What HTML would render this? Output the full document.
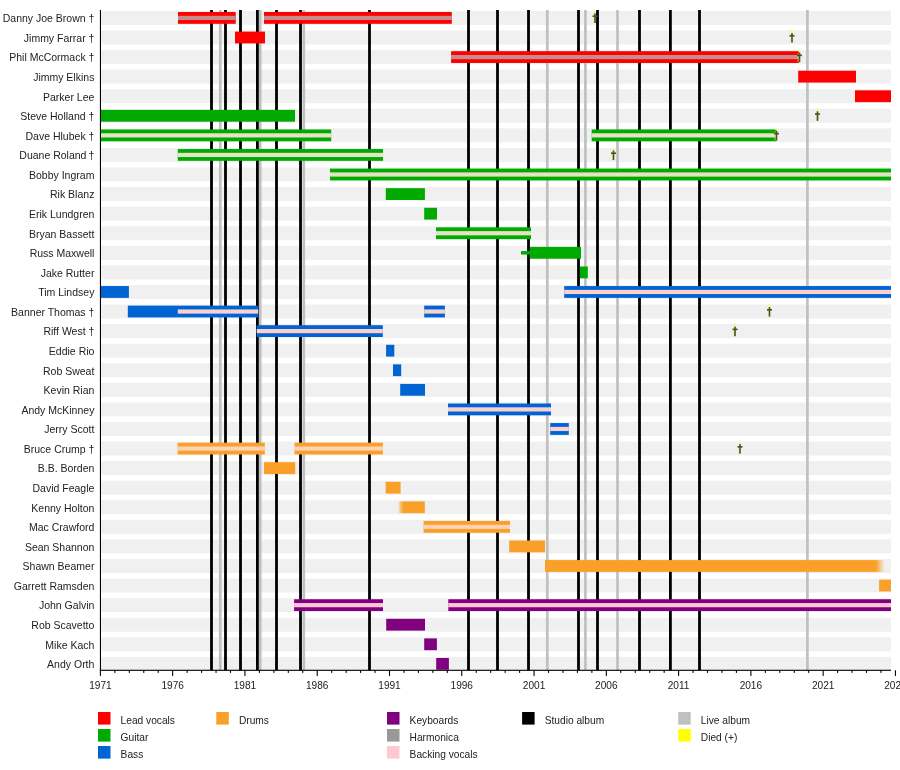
<!DOCTYPE html>
<html><head><meta charset="utf-8"><title>Molly Hatchet timeline</title>
<style>html,body{margin:0;padding:0;background:#fff;}body{width:900px;height:770px;overflow:hidden;}svg{display:block;will-change:transform;font-family:"Liberation Sans",sans-serif;}.nm{font-size:10.5px;fill:#222;text-anchor:end;}.yr{font-size:10.1px;fill:#222;text-anchor:middle;}.lg{font-size:10.2px;fill:#222;}.dg{font-size:12px;fill:#3b3b16;text-anchor:middle;}</style></head><body>
<svg width="900" height="770" viewBox="0 0 900 770">
<rect x="0" y="0" width="900" height="770" fill="#fff"/>
<rect x="101" y="10.92" width="790" height="14" fill="#f0f0f0"/>
<rect x="101" y="30.49" width="790" height="14" fill="#f0f0f0"/>
<rect x="101" y="50.07" width="790" height="14" fill="#f0f0f0"/>
<rect x="101" y="69.64" width="790" height="14" fill="#f0f0f0"/>
<rect x="101" y="89.22" width="790" height="14" fill="#f0f0f0"/>
<rect x="101" y="108.79" width="790" height="14" fill="#f0f0f0"/>
<rect x="101" y="128.36" width="790" height="14" fill="#f0f0f0"/>
<rect x="101" y="147.94" width="790" height="14" fill="#f0f0f0"/>
<rect x="101" y="167.51" width="790" height="14" fill="#f0f0f0"/>
<rect x="101" y="187.09" width="790" height="14" fill="#f0f0f0"/>
<rect x="101" y="206.66" width="790" height="14" fill="#f0f0f0"/>
<rect x="101" y="226.23" width="790" height="14" fill="#f0f0f0"/>
<rect x="101" y="245.81" width="790" height="14" fill="#f0f0f0"/>
<rect x="101" y="265.38" width="790" height="14" fill="#f0f0f0"/>
<rect x="101" y="284.96" width="790" height="14" fill="#f0f0f0"/>
<rect x="101" y="304.53" width="790" height="14" fill="#f0f0f0"/>
<rect x="101" y="324.1" width="790" height="14" fill="#f0f0f0"/>
<rect x="101" y="343.68" width="790" height="14" fill="#f0f0f0"/>
<rect x="101" y="363.25" width="790" height="14" fill="#f0f0f0"/>
<rect x="101" y="382.83" width="790" height="14" fill="#f0f0f0"/>
<rect x="101" y="402.4" width="790" height="14" fill="#f0f0f0"/>
<rect x="101" y="421.97" width="790" height="14" fill="#f0f0f0"/>
<rect x="101" y="441.55" width="790" height="14" fill="#f0f0f0"/>
<rect x="101" y="461.12" width="790" height="14" fill="#f0f0f0"/>
<rect x="101" y="480.7" width="790" height="14" fill="#f0f0f0"/>
<rect x="101" y="500.27" width="790" height="14" fill="#f0f0f0"/>
<rect x="101" y="519.84" width="790" height="14" fill="#f0f0f0"/>
<rect x="101" y="539.42" width="790" height="14" fill="#f0f0f0"/>
<rect x="101" y="558.99" width="790" height="14" fill="#f0f0f0"/>
<rect x="101" y="578.57" width="790" height="14" fill="#f0f0f0"/>
<rect x="101" y="598.14" width="790" height="14" fill="#f0f0f0"/>
<rect x="101" y="617.71" width="790" height="14" fill="#f0f0f0"/>
<rect x="101" y="637.29" width="790" height="14" fill="#f0f0f0"/>
<rect x="101" y="656.86" width="790" height="14" fill="#f0f0f0"/>
<rect x="218.95" y="10" width="2.7" height="660.3" fill="#c0c0c0"/>
<rect x="258.85" y="10" width="2.7" height="660.3" fill="#c0c0c0"/>
<rect x="302.45" y="10" width="2.7" height="660.3" fill="#c0c0c0"/>
<rect x="545.95" y="10" width="2.7" height="660.3" fill="#c0c0c0"/>
<rect x="584.05" y="10" width="2.7" height="660.3" fill="#c0c0c0"/>
<rect x="616.15" y="10" width="2.7" height="660.3" fill="#c0c0c0"/>
<rect x="806.05" y="10" width="2.7" height="660.3" fill="#c0c0c0"/>
<rect x="210.1" y="10" width="2.8" height="660.3" fill="#000"/>
<rect x="224.1" y="10" width="2.8" height="660.3" fill="#000"/>
<rect x="239.1" y="10" width="2.8" height="660.3" fill="#000"/>
<rect x="256" y="10" width="2.8" height="660.3" fill="#000"/>
<rect x="275.1" y="10" width="2.8" height="660.3" fill="#000"/>
<rect x="299.1" y="10" width="2.8" height="660.3" fill="#000"/>
<rect x="368.1" y="10" width="2.8" height="660.3" fill="#000"/>
<rect x="467.1" y="10" width="2.8" height="660.3" fill="#000"/>
<rect x="496.1" y="10" width="2.8" height="660.3" fill="#000"/>
<rect x="527.1" y="10" width="2.8" height="660.3" fill="#000"/>
<rect x="577.1" y="10" width="2.8" height="660.3" fill="#000"/>
<rect x="596.1" y="10" width="2.8" height="660.3" fill="#000"/>
<rect x="638.1" y="10" width="2.8" height="660.3" fill="#000"/>
<rect x="669" y="10" width="2.8" height="660.3" fill="#000"/>
<rect x="698.1" y="10" width="2.8" height="660.3" fill="#000"/>
<defs><linearGradient id="gfl" x1="0" x2="1" y1="0" y2="0"><stop offset="0" stop-color="#fa9f28" stop-opacity="0"/><stop offset="1" stop-color="#fa9f28"/></linearGradient><linearGradient id="gfr" x1="0" x2="1" y1="0" y2="0"><stop offset="0" stop-color="#fa9f28"/><stop offset="1" stop-color="#fa9f28" stop-opacity="0"/></linearGradient></defs>
<rect x="178" y="12.02" width="57.7" height="11.8" fill="#ff0000"/>
<rect x="178" y="15.82" width="57.7" height="4.2" fill="#c48c8c"/>
<rect x="264" y="12.02" width="187.8" height="11.8" fill="#ff0000"/>
<rect x="264" y="15.82" width="187.8" height="4.2" fill="#c48c8c"/>
<rect x="235" y="31.59" width="30" height="11.8" fill="#ff0000"/>
<rect x="451.1" y="51.17" width="347.9" height="11.8" fill="#ff0000"/>
<rect x="451.1" y="54.97" width="347.9" height="4.2" fill="#c48c8c"/>
<rect x="798.2" y="70.74" width="57.8" height="11.8" fill="#ff0000"/>
<rect x="855" y="90.32" width="36" height="11.8" fill="#ff0000"/>
<rect x="100.5" y="109.89" width="194.5" height="11.8" fill="#00aa00"/>
<rect x="100.5" y="129.46" width="230.7" height="11.8" fill="#00aa00"/>
<rect x="100.5" y="133.26" width="230.7" height="4.2" fill="#e6e2c4"/>
<rect x="591.7" y="129.46" width="184.7" height="11.8" fill="#00aa00"/>
<rect x="591.7" y="133.26" width="184.7" height="4.2" fill="#e6e2c4"/>
<rect x="177.8" y="149.04" width="205.2" height="11.8" fill="#00aa00"/>
<rect x="177.8" y="152.84" width="205.2" height="4.2" fill="#e6e2c4"/>
<rect x="330" y="168.61" width="561" height="11.8" fill="#00aa00"/>
<rect x="330" y="172.41" width="561" height="4.2" fill="#e6e2c4"/>
<rect x="385.8" y="188.19" width="39.1" height="11.8" fill="#00aa00"/>
<rect x="424.2" y="207.76" width="12.8" height="11.8" fill="#00aa00"/>
<rect x="436" y="227.33" width="95" height="11.8" fill="#00aa00"/>
<rect x="436" y="231.13" width="95" height="4.2" fill="#e6e2c4"/>
<rect x="530" y="246.91" width="51" height="11.8" fill="#00aa00"/>
<rect x="580" y="266.48" width="7.8" height="11.8" fill="#00aa00"/>
<rect x="100.5" y="286.06" width="28.4" height="11.8" fill="#0064d2"/>
<rect x="564.2" y="286.06" width="326.8" height="11.8" fill="#0064d2"/>
<rect x="564.2" y="289.86" width="326.8" height="4.2" fill="#fcd0cc"/>
<rect x="127.8" y="305.63" width="130.4" height="11.8" fill="#0064d2"/>
<rect x="424.2" y="305.63" width="20.7" height="11.8" fill="#0064d2"/>
<rect x="424.2" y="309.43" width="20.7" height="4.2" fill="#fcd0cc"/>
<rect x="256.7" y="325.2" width="126.1" height="11.8" fill="#0064d2"/>
<rect x="256.7" y="329" width="126.1" height="4.2" fill="#fcd0cc"/>
<rect x="386.1" y="344.78" width="8.2" height="11.8" fill="#0064d2"/>
<rect x="393" y="364.35" width="8.2" height="11.8" fill="#0064d2"/>
<rect x="400.2" y="383.93" width="24.8" height="11.8" fill="#0064d2"/>
<rect x="448" y="403.5" width="103" height="11.8" fill="#0064d2"/>
<rect x="448" y="407.3" width="103" height="4.2" fill="#fcd0cc"/>
<rect x="550.2" y="423.07" width="18.6" height="11.8" fill="#0064d2"/>
<rect x="550.2" y="426.87" width="18.6" height="4.2" fill="#fcd0cc"/>
<rect x="177.7" y="442.65" width="87.1" height="11.8" fill="#fa9f28"/>
<rect x="177.7" y="446.45" width="87.1" height="4.2" fill="#fcd2b8"/>
<rect x="294.5" y="442.65" width="88.4" height="11.8" fill="#fa9f28"/>
<rect x="294.5" y="446.45" width="88.4" height="4.2" fill="#fcd2b8"/>
<rect x="264" y="462.22" width="31.2" height="11.8" fill="#fa9f28"/>
<rect x="385.7" y="481.8" width="14.9" height="11.8" fill="#fa9f28"/>
<rect x="398" y="501.37" width="4.5" height="11.8" fill="url(#gfl)"/>
<rect x="402.5" y="501.37" width="22.3" height="11.8" fill="#fa9f28"/>
<rect x="423.6" y="520.94" width="86.4" height="11.8" fill="#fa9f28"/>
<rect x="423.6" y="524.74" width="86.4" height="4.2" fill="#fcd2b8"/>
<rect x="509.2" y="540.52" width="35.8" height="11.8" fill="#fa9f28"/>
<rect x="545" y="560.09" width="331" height="11.8" fill="#fa9f28"/>
<rect x="876" y="560.09" width="8.5" height="11.8" fill="url(#gfr)"/>
<rect x="879.1" y="579.67" width="11.9" height="11.8" fill="#fa9f28"/>
<rect x="294.1" y="599.24" width="88.9" height="11.8" fill="#800080"/>
<rect x="294.1" y="603.04" width="88.9" height="4.2" fill="#ffc4d6"/>
<rect x="448.3" y="599.24" width="442.7" height="11.8" fill="#800080"/>
<rect x="448.3" y="603.04" width="442.7" height="4.2" fill="#ffc4d6"/>
<rect x="386.2" y="618.81" width="38.8" height="11.8" fill="#800080"/>
<rect x="424.2" y="638.39" width="12.7" height="11.8" fill="#800080"/>
<rect x="436.2" y="657.96" width="12.7" height="11.8" fill="#800080"/>
<rect x="177.8" y="309.43" width="80.4" height="4.2" fill="#fcd0cc"/>
<rect x="521" y="251.06" width="9" height="3.5" fill="#00aa00"/>
<rect x="99.9" y="10" width="1.1" height="660.8" fill="#000"/>
<rect x="99.9" y="669.75" width="791.1" height="1.1" fill="#000"/>
<rect x="99.85" y="670.3" width="1.1" height="5.6" fill="#000"/>
<text class="yr" x="100.4" y="688.7">1971</text>
<rect x="114.31" y="670.3" width="1.1" height="2.6" fill="#000"/>
<rect x="128.76" y="670.3" width="1.1" height="2.6" fill="#000"/>
<rect x="143.22" y="670.3" width="1.1" height="2.6" fill="#000"/>
<rect x="157.67" y="670.3" width="1.1" height="2.6" fill="#000"/>
<rect x="172.12" y="670.3" width="1.1" height="5.6" fill="#000"/>
<text class="yr" x="172.68" y="688.7">1976</text>
<rect x="186.58" y="670.3" width="1.1" height="2.6" fill="#000"/>
<rect x="201.03" y="670.3" width="1.1" height="2.6" fill="#000"/>
<rect x="215.49" y="670.3" width="1.1" height="2.6" fill="#000"/>
<rect x="229.94" y="670.3" width="1.1" height="2.6" fill="#000"/>
<rect x="244.4" y="670.3" width="1.1" height="5.6" fill="#000"/>
<text class="yr" x="244.95" y="688.7">1981</text>
<rect x="258.85" y="670.3" width="1.1" height="2.6" fill="#000"/>
<rect x="273.31" y="670.3" width="1.1" height="2.6" fill="#000"/>
<rect x="287.76" y="670.3" width="1.1" height="2.6" fill="#000"/>
<rect x="302.22" y="670.3" width="1.1" height="2.6" fill="#000"/>
<rect x="316.68" y="670.3" width="1.1" height="5.6" fill="#000"/>
<text class="yr" x="317.23" y="688.7">1986</text>
<rect x="331.13" y="670.3" width="1.1" height="2.6" fill="#000"/>
<rect x="345.58" y="670.3" width="1.1" height="2.6" fill="#000"/>
<rect x="360.04" y="670.3" width="1.1" height="2.6" fill="#000"/>
<rect x="374.49" y="670.3" width="1.1" height="2.6" fill="#000"/>
<rect x="388.95" y="670.3" width="1.1" height="5.6" fill="#000"/>
<text class="yr" x="389.5" y="688.7">1991</text>
<rect x="403.41" y="670.3" width="1.1" height="2.6" fill="#000"/>
<rect x="417.86" y="670.3" width="1.1" height="2.6" fill="#000"/>
<rect x="432.31" y="670.3" width="1.1" height="2.6" fill="#000"/>
<rect x="446.77" y="670.3" width="1.1" height="2.6" fill="#000"/>
<rect x="461.22" y="670.3" width="1.1" height="5.6" fill="#000"/>
<text class="yr" x="461.77" y="688.7">1996</text>
<rect x="475.68" y="670.3" width="1.1" height="2.6" fill="#000"/>
<rect x="490.14" y="670.3" width="1.1" height="2.6" fill="#000"/>
<rect x="504.59" y="670.3" width="1.1" height="2.6" fill="#000"/>
<rect x="519.05" y="670.3" width="1.1" height="2.6" fill="#000"/>
<rect x="533.5" y="670.3" width="1.1" height="5.6" fill="#000"/>
<text class="yr" x="534.05" y="688.7">2001</text>
<rect x="547.96" y="670.3" width="1.1" height="2.6" fill="#000"/>
<rect x="562.41" y="670.3" width="1.1" height="2.6" fill="#000"/>
<rect x="576.87" y="670.3" width="1.1" height="2.6" fill="#000"/>
<rect x="591.32" y="670.3" width="1.1" height="2.6" fill="#000"/>
<rect x="605.78" y="670.3" width="1.1" height="5.6" fill="#000"/>
<text class="yr" x="606.33" y="688.7">2006</text>
<rect x="620.23" y="670.3" width="1.1" height="2.6" fill="#000"/>
<rect x="634.69" y="670.3" width="1.1" height="2.6" fill="#000"/>
<rect x="649.14" y="670.3" width="1.1" height="2.6" fill="#000"/>
<rect x="663.6" y="670.3" width="1.1" height="2.6" fill="#000"/>
<rect x="678.05" y="670.3" width="1.1" height="5.6" fill="#000"/>
<text class="yr" x="678.6" y="688.7">2011</text>
<rect x="692.5" y="670.3" width="1.1" height="2.6" fill="#000"/>
<rect x="706.96" y="670.3" width="1.1" height="2.6" fill="#000"/>
<rect x="721.42" y="670.3" width="1.1" height="2.6" fill="#000"/>
<rect x="735.87" y="670.3" width="1.1" height="2.6" fill="#000"/>
<rect x="750.33" y="670.3" width="1.1" height="5.6" fill="#000"/>
<text class="yr" x="750.88" y="688.7">2016</text>
<rect x="764.78" y="670.3" width="1.1" height="2.6" fill="#000"/>
<rect x="779.24" y="670.3" width="1.1" height="2.6" fill="#000"/>
<rect x="793.69" y="670.3" width="1.1" height="2.6" fill="#000"/>
<rect x="808.14" y="670.3" width="1.1" height="2.6" fill="#000"/>
<rect x="822.6" y="670.3" width="1.1" height="5.6" fill="#000"/>
<text class="yr" x="823.15" y="688.7">2021</text>
<rect x="837.06" y="670.3" width="1.1" height="2.6" fill="#000"/>
<rect x="851.51" y="670.3" width="1.1" height="2.6" fill="#000"/>
<rect x="865.97" y="670.3" width="1.1" height="2.6" fill="#000"/>
<rect x="880.42" y="670.3" width="1.1" height="2.6" fill="#000"/>
<rect x="894.88" y="670.3" width="1.1" height="5.6" fill="#000"/>
<text class="yr" x="895.42" y="688.7">2026</text>
<text class="nm" x="94.4" y="22.22">Danny Joe Brown †</text>
<text class="nm" x="94.4" y="41.79">Jimmy Farrar †</text>
<text class="nm" x="94.4" y="61.37">Phil McCormack †</text>
<text class="nm" x="94.4" y="80.94">Jimmy Elkins</text>
<text class="nm" x="94.4" y="100.52">Parker Lee</text>
<text class="nm" x="94.4" y="120.09">Steve Holland †</text>
<text class="nm" x="94.4" y="139.66">Dave Hlubek †</text>
<text class="nm" x="94.4" y="159.24">Duane Roland †</text>
<text class="nm" x="94.4" y="178.81">Bobby Ingram</text>
<text class="nm" x="94.4" y="198.39">Rik Blanz</text>
<text class="nm" x="94.4" y="217.96">Erik Lundgren</text>
<text class="nm" x="94.4" y="237.53">Bryan Bassett</text>
<text class="nm" x="94.4" y="257.11">Russ Maxwell</text>
<text class="nm" x="94.4" y="276.68">Jake Rutter</text>
<text class="nm" x="94.4" y="296.26">Tim Lindsey</text>
<text class="nm" x="94.4" y="315.83">Banner Thomas †</text>
<text class="nm" x="94.4" y="335.4">Riff West †</text>
<text class="nm" x="94.4" y="354.98">Eddie Rio</text>
<text class="nm" x="94.4" y="374.55">Rob Sweat</text>
<text class="nm" x="94.4" y="394.13">Kevin Rian</text>
<text class="nm" x="94.4" y="413.7">Andy McKinney</text>
<text class="nm" x="94.4" y="433.27">Jerry Scott</text>
<text class="nm" x="94.4" y="452.85">Bruce Crump †</text>
<text class="nm" x="94.4" y="472.42">B.B. Borden</text>
<text class="nm" x="94.4" y="492">David Feagle</text>
<text class="nm" x="94.4" y="511.57">Kenny Holton</text>
<text class="nm" x="94.4" y="531.14">Mac Crawford</text>
<text class="nm" x="94.4" y="550.72">Sean Shannon</text>
<text class="nm" x="94.4" y="570.29">Shawn Beamer</text>
<text class="nm" x="94.4" y="589.87">Garrett Ramsden</text>
<text class="nm" x="94.4" y="609.44">John Galvin</text>
<text class="nm" x="94.4" y="629.01">Rob Scavetto</text>
<text class="nm" x="94.4" y="648.59">Mike Kach</text>
<text class="nm" x="94.4" y="668.16">Andy Orth</text>
<g><rect x="593" y="13.92" width="1.8" height="9" fill="#eef070" opacity="0.55"/><circle cx="594.7" cy="11.72" r="1.2" fill="#eeff60" opacity="0.8"/><rect x="594.2" y="13.42" width="1.6" height="9.6" fill="#4a5224"/><rect x="592.5" y="15.42" width="5" height="1.6" fill="#4a5224"/></g>
<g><rect x="790" y="33.49" width="1.8" height="9" fill="#eef070" opacity="0.55"/><circle cx="791.7" cy="31.29" r="1.2" fill="#eeff60" opacity="0.8"/><rect x="791.2" y="32.99" width="1.6" height="9.6" fill="#4a5224"/><rect x="789.5" y="34.99" width="5" height="1.6" fill="#4a5224"/></g>
<g><rect x="797.5" y="53.07" width="1.8" height="9" fill="#eef070" opacity="0.55"/><circle cx="799.2" cy="50.87" r="1.2" fill="#eeff60" opacity="0.8"/><rect x="798.7" y="52.57" width="1.6" height="9.6" fill="#4a5224"/><rect x="797" y="54.57" width="5" height="1.6" fill="#4a5224"/></g>
<g><rect x="815.5" y="111.79" width="1.8" height="9" fill="#eef070" opacity="0.55"/><circle cx="817.2" cy="109.59" r="1.2" fill="#eeff60" opacity="0.8"/><rect x="816.7" y="111.29" width="1.6" height="9.6" fill="#4a5224"/><rect x="815" y="113.29" width="5" height="1.6" fill="#4a5224"/></g>
<g><rect x="774.5" y="131.36" width="1.8" height="9" fill="#eef070" opacity="0.55"/><circle cx="776.2" cy="129.16" r="1.2" fill="#eeff60" opacity="0.8"/><rect x="775.7" y="130.86" width="1.6" height="9.6" fill="#4a5224"/><rect x="774" y="132.86" width="5" height="1.6" fill="#4a5224"/></g>
<g><rect x="611.5" y="150.94" width="1.8" height="9" fill="#eef070" opacity="0.55"/><circle cx="613.2" cy="148.74" r="1.2" fill="#eeff60" opacity="0.8"/><rect x="612.7" y="150.44" width="1.6" height="9.6" fill="#4a5224"/><rect x="611" y="152.44" width="5" height="1.6" fill="#4a5224"/></g>
<g><rect x="767.5" y="307.53" width="1.8" height="9" fill="#eef070" opacity="0.55"/><circle cx="769.2" cy="305.33" r="1.2" fill="#eeff60" opacity="0.8"/><rect x="768.7" y="307.03" width="1.6" height="9.6" fill="#4a5224"/><rect x="767" y="309.03" width="5" height="1.6" fill="#4a5224"/></g>
<g><rect x="733" y="327.1" width="1.8" height="9" fill="#eef070" opacity="0.55"/><circle cx="734.7" cy="324.9" r="1.2" fill="#eeff60" opacity="0.8"/><rect x="734.2" y="326.6" width="1.6" height="9.6" fill="#4a5224"/><rect x="732.5" y="328.6" width="5" height="1.6" fill="#4a5224"/></g>
<g><rect x="738" y="444.55" width="1.8" height="9" fill="#eef070" opacity="0.55"/><circle cx="739.7" cy="442.35" r="1.2" fill="#eeff60" opacity="0.8"/><rect x="739.2" y="444.05" width="1.6" height="9.6" fill="#4a5224"/><rect x="737.5" y="446.05" width="5" height="1.6" fill="#4a5224"/></g>
<rect x="98" y="712" width="12.5" height="12.6" fill="#ff0000"/>
<text class="lg" x="120.6" y="724">Lead vocals</text>
<rect x="98" y="729" width="12.5" height="12.6" fill="#00aa00"/>
<text class="lg" x="120.6" y="741">Guitar</text>
<rect x="98" y="746" width="12.5" height="12.6" fill="#0064d2"/>
<text class="lg" x="120.6" y="758">Bass</text>
<rect x="216.3" y="712" width="12.5" height="12.6" fill="#fa9f28"/>
<text class="lg" x="238.9" y="724">Drums</text>
<rect x="387" y="712" width="12.5" height="12.6" fill="#800080"/>
<text class="lg" x="409.6" y="724">Keyboards</text>
<rect x="387" y="729" width="12.5" height="12.6" fill="#999999"/>
<text class="lg" x="409.6" y="741">Harmonica</text>
<rect x="387" y="746" width="12.5" height="12.6" fill="#ffc8cc"/>
<text class="lg" x="409.6" y="758">Backing vocals</text>
<rect x="522.1" y="712" width="12.5" height="12.6" fill="#000000"/>
<text class="lg" x="544.7" y="724">Studio album</text>
<rect x="678.2" y="712" width="12.5" height="12.6" fill="#c0c0c0"/>
<text class="lg" x="700.8" y="724">Live album</text>
<rect x="678.2" y="729" width="12.5" height="12.6" fill="#ffff00"/>
<text class="lg" x="700.8" y="741">Died (+)</text>
</svg></body></html>
